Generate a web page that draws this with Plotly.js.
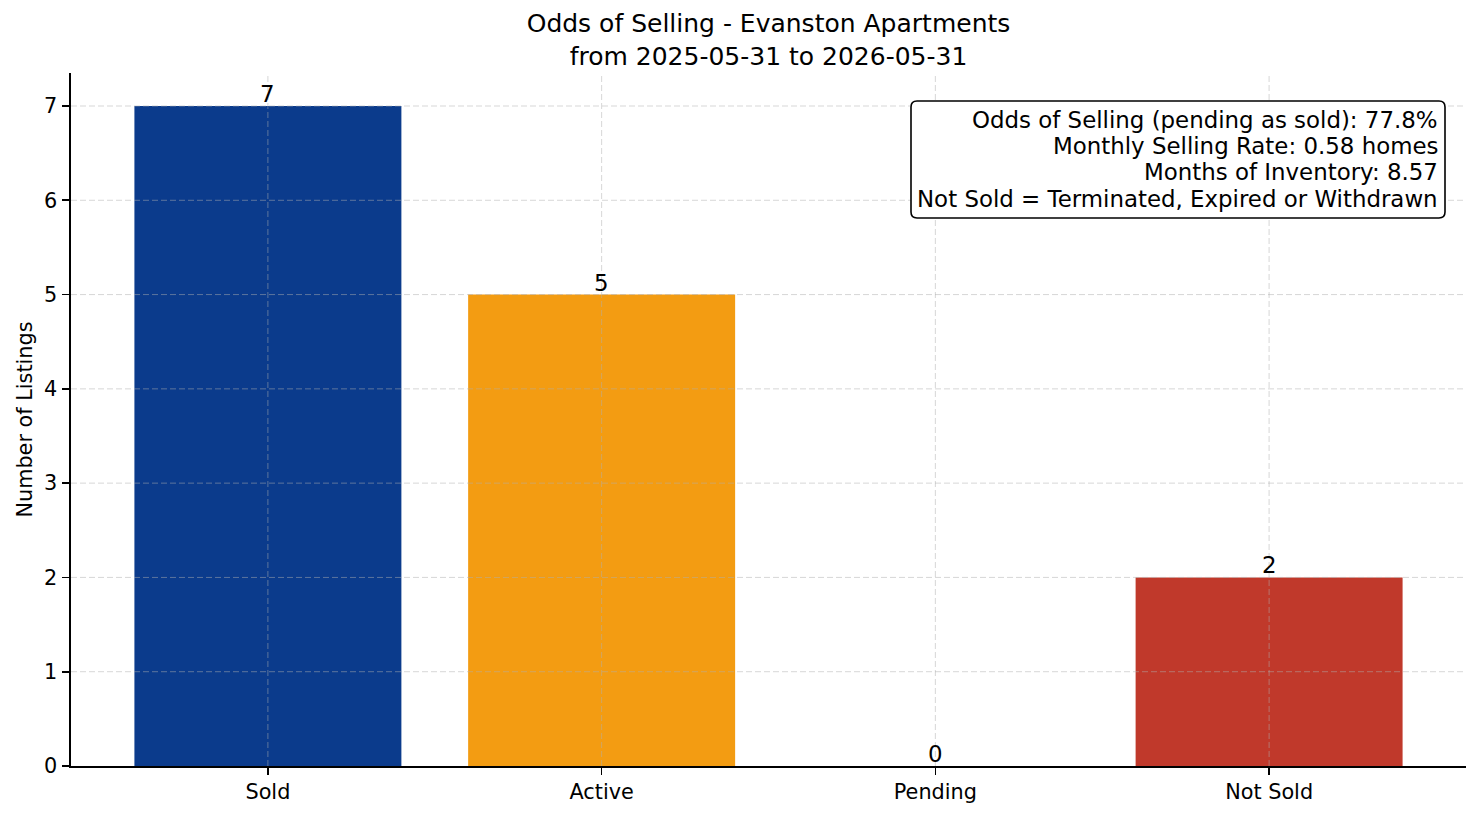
<!DOCTYPE html>
<html>
<head>
<meta charset="utf-8">
<script src="https://cdn.plot.ly/plotly-3.0.1.min.js"></script>
<style>
  html, body { margin: 0; padding: 0; background: #ffffff; }
  #chart { width: 1481px; height: 816px; }
</style>
</head>
<body>
<div id="chart"></div>
<script>
// ---- data ----
const categories = ['Sold', 'Active', 'Pending', 'Not Sold'];
const counts = [7, 5, 0, 2];
const barColors = ['#0b3b8c', '#f39c12', '#e67e22', '#c0392b'];
const yTicks = [0, 1, 2, 3, 4, 5, 6, 7];
const titleLines = ['Odds of Selling - Evanston Apartments', 'from 2025-05-31 to 2026-05-31'];
const yLabel = 'Number of Listings';
const infoLines = [
  'Odds of Selling (pending as sold): 77.8%',
  'Monthly Selling Rate: 0.58 homes',
  'Months of Inventory: 8.57',
  'Not Sold = Terminated, Expired or Withdrawn'
];

// ---- layout geometry (pixels) ----
const W = 1481, H = 816;
const plotL = 71, plotR = 1466, plotT = 73, plotB = 766;
const px2x = p => (p - plotL) / (plotR - plotL);
const px2y = p => (plotB - p) / (plotB - plotT);
const FONT = 'DejaVu Sans, Liberation Sans, sans-serif';

const gridStyle = { color: 'rgba(176,176,176,0.5)', width: 1, dash: '6px,3px' };
const shapes = [];
yTicks.filter(v => v > 0).forEach(v => {
  shapes.push({ type: 'line', layer: 'above', xref: 'paper', yref: 'y', x0: 0, x1: 1, y0: v, y1: v, line: gridStyle });
});
categories.forEach((c, i) => {
  shapes.push({ type: 'line', layer: 'above', xref: 'x', yref: 'paper', x0: i, x1: i, y0: 0, y1: 1, line: gridStyle });
});

// rounded info box
const bx0 = px2x(911), bx1 = px2x(1445), by0 = px2y(218), by1 = px2y(101);
const rx = 6 / (plotR - plotL), ry = 6 / (plotB - plotT);
const boxPath = `M ${bx0 + rx} ${by1} L ${bx1 - rx} ${by1} Q ${bx1} ${by1} ${bx1} ${by1 - ry} ` +
  `L ${bx1} ${by0 + ry} Q ${bx1} ${by0} ${bx1 - rx} ${by0} L ${bx0 + rx} ${by0} ` +
  `Q ${bx0} ${by0} ${bx0} ${by0 + ry} L ${bx0} ${by1 - ry} Q ${bx0} ${by1} ${bx0 + rx} ${by1} Z`;
shapes.push({ type: 'path', layer: 'above', xref: 'paper', yref: 'paper', path: boxPath,
  fillcolor: '#ffffff', line: { color: '#000000', width: 1.6 } });

const lineCenters = [120, 146, 172, 199];
const annotations = infoLines.map((t, i) => ({
  xref: 'paper', yref: 'paper', x: px2x(1440), y: px2y(lineCenters[i]),
  xanchor: 'right', yanchor: 'middle', showarrow: false, align: 'right',
  text: t, font: { family: FONT, size: 22.9, color: '#000000' }
}));

// value labels above bars (from data)
categories.forEach((c, i) => {
  annotations.push({
    xref: 'x', yref: 'y', x: c, y: counts[i], xanchor: 'center', yanchor: 'bottom',
    yshift: -3, showarrow: false, text: String(counts[i]),
    font: { family: FONT, size: 22.9, color: '#000000' }
  });
});

const trace = {
  type: 'bar',
  x: categories,
  y: counts,
  width: 0.8,
  marker: { color: barColors, line: { width: 0 } },
  hoverinfo: 'none'
};

const axisCommon = {
  showline: true, linecolor: '#000000', linewidth: 1.6,
  ticks: 'outside', ticklen: 7, tickwidth: 1.6, tickcolor: '#000000',
  showgrid: false, zeroline: false, layer: 'above traces',
  tickfont: { family: FONT, size: 20.8, color: '#000000' }
};

const layout = {
  width: W, height: H,
  margin: { l: plotL, r: W - plotR, t: plotT, b: H - plotB, pad: 0 },
  paper_bgcolor: '#ffffff', plot_bgcolor: '#ffffff',
  showlegend: false,
  title: {
    text: titleLines.join('<br>'),
    x: 0.5, xref: 'paper', xanchor: 'center',
    y: 1 - 32 / H, yref: 'container', yanchor: 'middle',
    font: { family: FONT, size: 25, color: '#000000' }
  },
  xaxis: Object.assign({}, axisCommon, {
    type: 'category', range: [-0.59, 3.59], ticklabelstandoff: -1
  }),
  yaxis: Object.assign({}, axisCommon, {
    range: [0, 7.35], tickmode: 'array', tickvals: yTicks, ticktext: yTicks.map(String),
    ticklabelstandoff: 1,
    title: { text: yLabel, standoff: 6, font: { family: FONT, size: 20.8, color: '#000000' } }
  }),
  shapes: shapes,
  annotations: annotations
};

Plotly.newPlot('chart', [trace], layout, { displayModeBar: false, staticPlot: true });
</script>
</body>
</html>
